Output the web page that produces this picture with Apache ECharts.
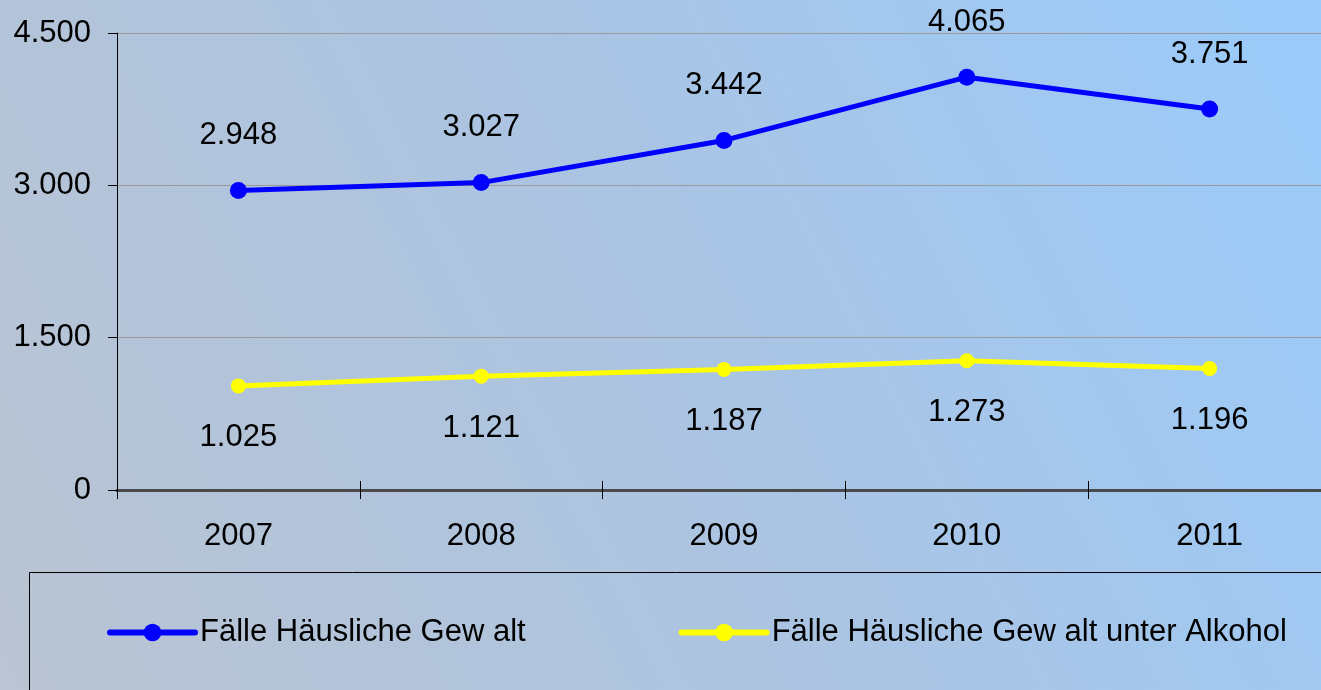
<!DOCTYPE html>
<html>
<head>
<meta charset="utf-8">
<script src="https://cdn.jsdelivr.net/npm/echarts@6/dist/echarts.min.js"></script>
<style>
	html, body { margin: 0; padding: 0; }
	#chart { width: 1321px; height: 690px; }
</style>
</head>
<body>
<div id="chart"></div>
<script>
	const years = ['2007', '2008', '2009', '2010', '2011'];
	const faelle = [2948, 3027, 3442, 4065, 3751];
	const faelleAlkohol = [1025, 1121, 1187, 1273, 1196];
	const seriesNames = ['Fälle Häusliche Gew alt', 'Fälle Häusliche Gew alt unter Alkohol'];

	const font = 'Liberation Sans, Arial, sans-serif';
	const fmt = v => v >= 1000 ? String(v).replace(/(\d)(?=(\d{3})+$)/, '$1.') : String(v);

	const chart = echarts.init(document.getElementById('chart'));
	chart.setOption({
		animation: false,
		backgroundColor: {
			type: 'linear', x: 0, y: 1, x2: 1, y2: 0,
			colorStops: [
				{ offset: 0, color: '#bac4d2' },
				{ offset: 0.5, color: '#abc4e2' },
				{ offset: 1, color: '#9acbfb' }
			]
		},
		grid: { left: 117, top: 33, height: 457, width: 1214, outerBoundsMode: 'none' },
		graphic: [{
			type: 'rect',
			shape: { x: 29.5, y: 572.5, width: 1400, height: 200 },
			style: { fill: 'none', stroke: '#000', lineWidth: 1 },
			silent: true
		}],
		legend: {
			left: 107, top: 617, padding: 0,
			itemWidth: 85, itemHeight: 22, itemGap: 153,
			lineStyle: { width: 6, cap: 'round' },
			textStyle: { fontFamily: font, fontSize: 31, color: '#000' },
			data: seriesNames
		},
		xAxis: [{
			type: 'category',
			data: years,
			boundaryGap: true,
			axisLine: { lineStyle: { color: '#4a4a4a', width: 3 } },
			axisTick: { show: true, length: 9, lineStyle: { color: '#000', width: 1 } },
			axisLabel: { fontFamily: font, fontSize: 31, color: '#000', margin: 31 }
		}, {
			type: 'category',
			data: years,
			position: 'bottom',
			boundaryGap: true,
			axisLine: { show: false },
			axisTick: { show: true, inside: true, length: 9, lineStyle: { color: '#000', width: 1 } },
			axisLabel: { show: false }
		}],
		yAxis: {
			type: 'value',
			min: 0, max: 4500, interval: 1500,
			axisLine: { show: true, lineStyle: { color: '#000' } },
			axisTick: { show: true, length: 9, lineStyle: { color: '#000' } },
			axisLabel: { fontFamily: font, fontSize: 31, color: '#000', margin: 26, formatter: fmt },
			splitLine: { lineStyle: { color: '#999', width: 1 } }
		},
		series: [{
			name: seriesNames[0],
			type: 'line',
			data: faelle,
			color: '#0000ff',
			lineStyle: { width: 5 },
			symbol: 'circle', symbolSize: 17,
			label: {
				show: true, position: 'top', distance: 31,
				fontFamily: font, fontSize: 31, color: '#000', formatter: p => fmt(p.value)
			}
		}, {
			name: seriesNames[1],
			type: 'line',
			data: faelleAlkohol,
			color: '#ffff00',
			lineStyle: { width: 5 },
			symbol: 'circle', symbolSize: 15,
			label: {
				show: true, position: 'bottom', distance: 29,
				fontFamily: font, fontSize: 31, color: '#000', formatter: p => fmt(p.value)
			}
		}]
	});
</script>
</body>
</html>
